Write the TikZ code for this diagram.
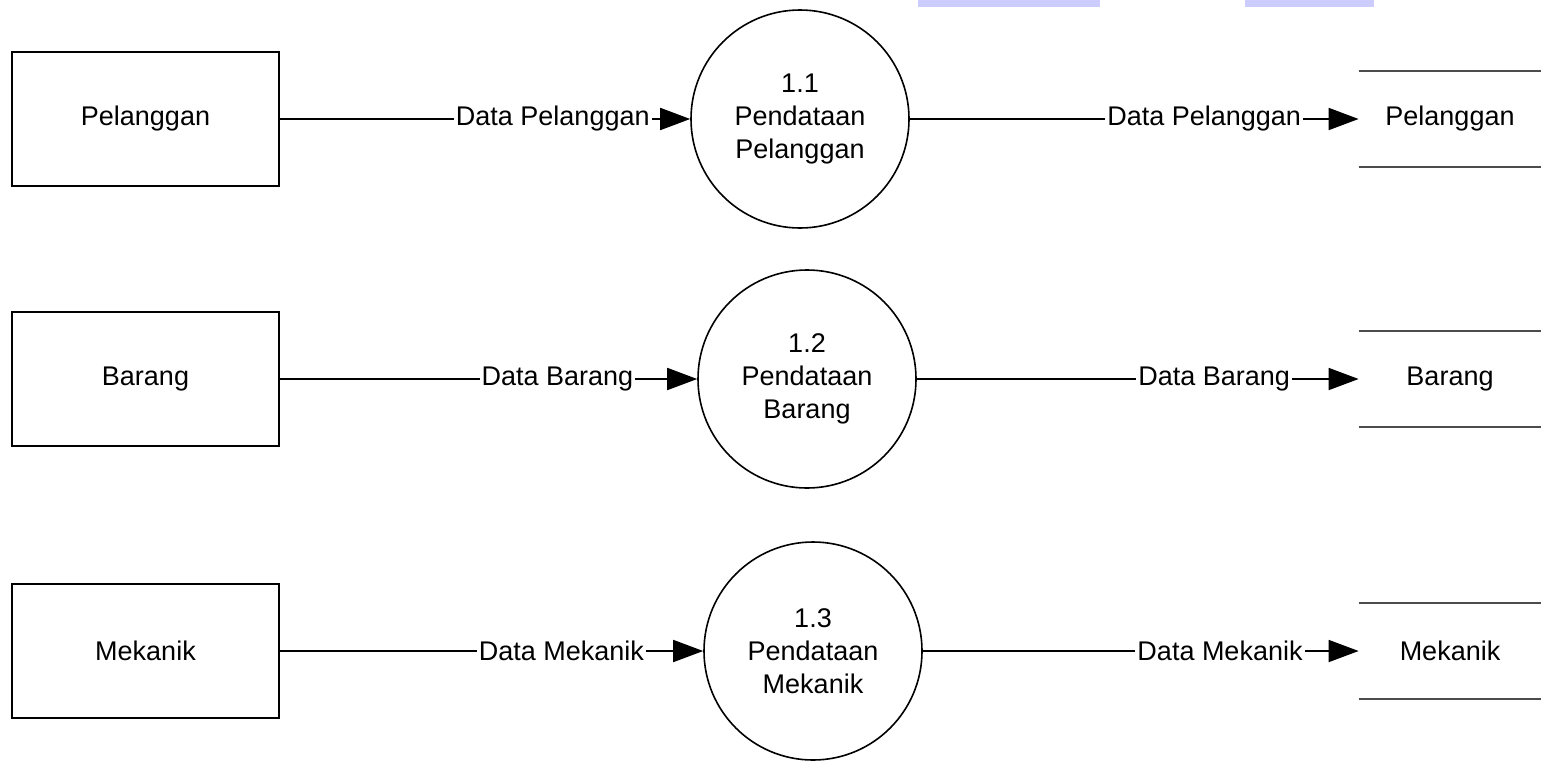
\documentclass[tikz,border=0pt]{standalone}
\usepackage{fontspec}
\setmainfont{Liberation Sans}
\usetikzlibrary{arrows.meta}

\begin{document}
\begin{tikzpicture}[x=0.5pt, y=-0.5pt,
  every node/.style={font=\fontsize{13.5}{16.5}\selectfont},
  entitas/.style={draw, line width=1pt, minimum width=133.5pt, minimum height=67pt},
  proses/.style={draw, circle, line width=0.8pt, minimum size=109pt, inner sep=0pt, align=center},
  simpan/.style={minimum width=91pt, minimum height=47.5pt},
  aliran/.style={line width=0.9pt, -{Triangle[length=15pt,width=11pt]}},
  ket/.style={fill=white, inner sep=1pt}]
  \useasboundingbox (0,0) rectangle (1541,760);
  \fill[blue!20] (918,0) rectangle (1100,7);
  \fill[blue!20] (1245,0) rectangle (1374,7);
  \node[entitas] (e1) at (145.5,119) {Pelanggan};
  \node[entitas] (e2) at (145.5,379) {Barang};
  \node[entitas] (e3) at (145.5,651) {Mekanik};
  \node[proses] (p1) at (800,119) {1.1\\Pendataan\\Pelanggan};
  \node[proses] (p2) at (807,379) {1.2\\Pendataan\\Barang};
  \node[proses] (p3) at (813,651) {1.3\\Pendataan\\Mekanik};
  \node[simpan] (s1) at (1450,119) {Pelanggan};
  \node[simpan] (s2) at (1450,379) {Barang};
  \node[simpan] (s3) at (1450,651) {Mekanik};
  \foreach \s in {s1,s2,s3}
    \draw[line width=1.2pt, gray!60!black] (\s.north west) -- (\s.north east) (\s.south west) -- (\s.south east);
  \draw[aliran] (e1) -- node[ket, pos=.665] {Data Pelanggan} (p1);
  \draw[aliran] (e2) -- node[ket, pos=.665] {Data Barang} (p2);
  \draw[aliran] (e3) -- node[ket, pos=.665] {Data Mekanik} (p3);
  \draw[aliran] (p1) -- node[ket, pos=.656] {Data Pelanggan} (s1);
  \draw[aliran] (p2) -- node[ket, pos=.673] {Data Barang} (s2);
  \draw[aliran] (p3) -- node[ket, pos=.682] {Data Mekanik} (s3);
\end{tikzpicture}
\end{document}
